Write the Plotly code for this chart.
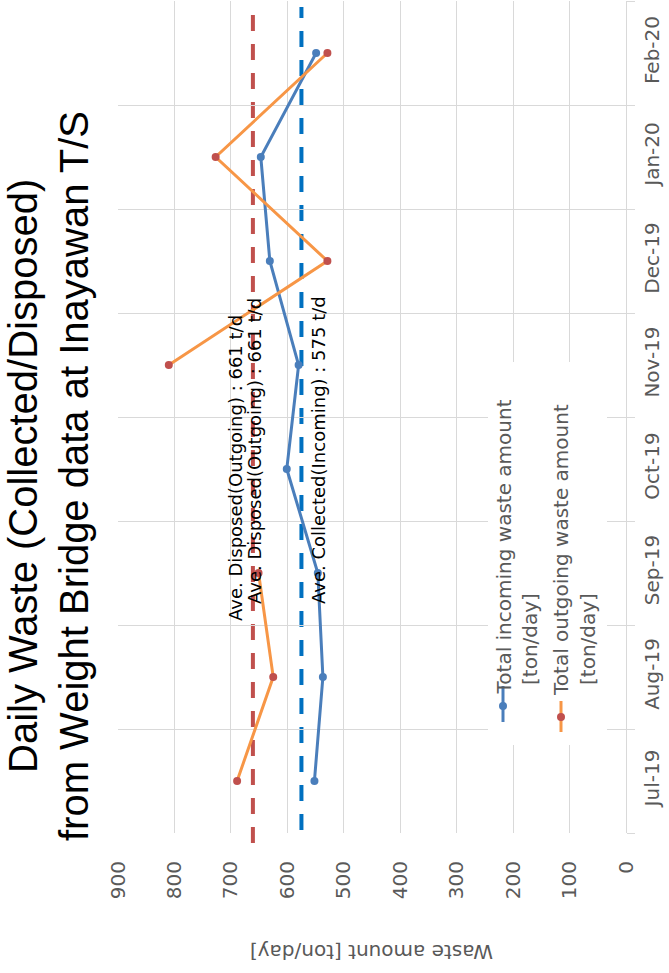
import plotly.graph_objects as go

# Monthly averages of daily waste at the Inayawan transfer station
months = ["Jul-19", "Aug-19", "Sep-19", "Oct-19", "Nov-19", "Dec-19", "Jan-20", "Feb-20"]
incoming = [552, 537, 546, 601, 580, 631, 647, 549]      # ton/day
outgoing = [689, 625, 651, None, 810, 529, 727, 529]     # ton/day (no Oct-19 record)
avg_incoming = 575
avg_outgoing = 661

value_ticks = list(range(0, 1000, 100))

W, H = 669, 973
ML, MR, MT, MB = 118, 43, 1, 140
PW, PH = W - ML - MR, H - MT - MB

BLUE = "#4A7EBB"
ORANGE = "#F79646"
RED = "#C0504D"
AVG_BLUE = "#0070C0"
GRID = "#D9D9D9"
GREY_TXT = "#595959"
FONT = "DejaVu Sans"


def px(x):
    """page x pixel -> paper fraction"""
    return (x - ML) / PW


def py(y):
    """page y pixel -> paper fraction"""
    return (MT + PH - y) / PH


fig = go.Figure()

fig.add_trace(go.Scatter(
    x=incoming, y=months, mode="lines+markers",
    line=dict(color=BLUE, width=3),
    marker=dict(color=BLUE, size=8),
    name="Total incoming waste amount [ton/day]",
))
fig.add_trace(go.Scatter(
    x=outgoing, y=months, mode="lines+markers", connectgaps=False,
    line=dict(color=ORANGE, width=3),
    marker=dict(color=RED, size=8),
    name="Total outgoing waste amount [ton/day]",
))

shapes = []
# average lines
shapes.append(dict(type="line", xref="x", yref="paper", x0=avg_outgoing, x1=avg_outgoing,
                   y0=py(843), y1=py(12), layer="between",
                   line=dict(color=RED, width=4, dash="16px,13px")))
shapes.append(dict(type="line", xref="x", yref="paper", x0=avg_incoming, x1=avg_incoming,
                   y0=py(830), y1=py(7), layer="between",
                   line=dict(color=AVG_BLUE, width=4, dash="16px,13px")))

# legend panel
shapes.append(dict(type="rect", xref="paper", yref="paper", x0=px(488), x1=px(607),
                   y0=py(745), y1=py(362), fillcolor="white", line=dict(width=0), layer="above"))
legend_items = [
    (503, 686, 722, 706, BLUE, BLUE),
    (561, 701, 732, 717, ORANGE, RED),
]
for lx, ly0, ly1, my, lc, mc in legend_items:
    shapes.append(dict(type="line", xref="paper", yref="paper", x0=px(lx), x1=px(lx),
                       y0=py(ly1), y1=py(ly0), line=dict(color=lc, width=3), layer="above"))
    shapes.append(dict(type="circle", xref="paper", yref="paper",
                       x0=px(lx - 4), x1=px(lx + 4), y0=py(my + 4), y1=py(my - 4),
                       fillcolor=mc, line=dict(width=0), layer="above"))

annotations = []


def note(text, x, y, size, color, angle=-90, xanchor="center", yanchor="middle", family=FONT):
    annotations.append(dict(text=text, xref="paper", yref="paper", x=px(x), y=py(y),
                            xanchor=xanchor, yanchor=yanchor, textangle=angle,
                            showarrow=False, font=dict(family=family, size=size, color=color)))


# chart title
note("Daily Waste (Collected/Disposed)", 23, 476, 40, "black", family="Liberation Sans")
note("from Weight Bridge data at Inayawan T/S", 74, 476, 40, "black", family="Liberation Sans")

# average labels
out_label = f"Ave. Disposed(Outgoing) : {avg_outgoing} t/d"
in_label = f"Ave. Collected(Incoming) : {avg_incoming} t/d"
note(out_label, 236, 468, 18, "black")
note(out_label, 254, 451, 18, "black")
note(in_label, 318, 450, 18, "black")

# legend text
note("Total incoming waste amount", 503, 697, 20, GREY_TXT, yanchor="bottom")
note("[ton/day]", 530, 687, 20, GREY_TXT, yanchor="bottom")
note("Total outgoing waste amount", 561, 698, 20, GREY_TXT, yanchor="bottom")
note("[ton/day]", 588, 687, 20, GREY_TXT, yanchor="bottom")

# value axis title
note("Waste amount [ton/day]", 372, 952, 20, GREY_TXT, angle=180)

fig.update_layout(
    width=W, height=H, autosize=False,
    margin=dict(l=ML, r=MR, t=MT, b=MB),
    paper_bgcolor="white", plot_bgcolor="white",
    showlegend=False,
    shapes=shapes, annotations=annotations,
    xaxis=dict(
        range=[900, 0], tickvals=value_ticks, ticktext=[str(v) for v in value_ticks],
        showgrid=True, gridcolor=GRID, gridwidth=1, zeroline=False, showline=False,
        ticks="", tickangle=-90, ticklabelstandoff=23,
        tickfont=dict(family=FONT, size=20, color=GREY_TXT),
    ),
    yaxis=dict(
        type="category", categoryorder="array", categoryarray=months,
        range=[-0.5, len(months) - 0.5], side="right", tickson="boundaries",
        showgrid=True, gridcolor=GRID, gridwidth=1,
        showline=True, linecolor=GRID, linewidth=1,
        ticks="outside", ticklen=8, tickcolor=GRID,
        tickangle=-90, ticklabelstandoff=8,
        tickfont=dict(family=FONT, size=20, color=GREY_TXT),
    ),
)

fig.write_html("out.html")
